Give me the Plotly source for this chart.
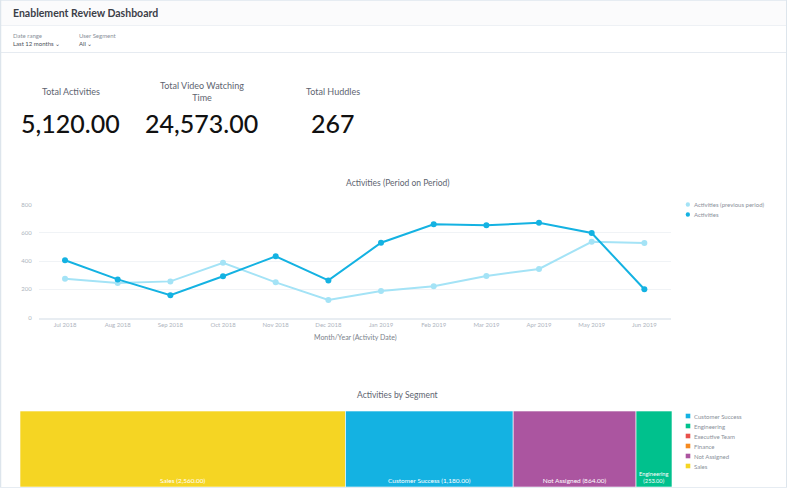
import plotly.graph_objects as go

W, H = 787, 488
months = ["Jul 2018","Aug 2018","Sep 2018","Oct 2018","Nov 2018","Dec 2018","Jan 2019","Feb 2019","Mar 2019","Apr 2019","May 2019","Jun 2019"]
previous = [275,245,256,388,249,125,188,221,294,344,536,527]
activities = [405,270,158,292,433,263,529,659,652,671,598,200]
segments = ["Sales","Customer Success","Not Assigned","Engineering"]
segment_values = [2290,1180,864,253]
segment_labels = ["Sales (2,560.00)","Customer Success (1,180.00)","Not Assigned (864.00)","Engineering<br>(253.00)"]
legend_segments = ["Customer Success","Engineering","Executive Team","Finance","Not Assigned","Sales"]
palette = {"Customer Success":"#14B2E2","Engineering":"#00C18D","Executive Team":"#E8504A","Finance":"#F58A1F","Not Assigned":"#AB55A0","Sales":"#F5D523"}
kpis = [("Total Activities",71,"5,120.00",70),("Total Video Watching<br>Time",202,"24,573.00",202),("Total Huddles",333,"267",333)]

FONT = "Lato, 'Open Sans', sans-serif"
px = lambda x: x / W
py = lambda y: 1 - y / H

fig = go.Figure()
fig.add_trace(go.Scatter(x=months, y=previous, name="Activities (previous period)", mode="lines+markers",
    line=dict(color="#A4E3F6", width=2), marker=dict(color="#A4E3F6", size=6), showlegend=False))
fig.add_trace(go.Scatter(x=months, y=activities, name="Activities", mode="lines+markers",
    line=dict(color="#14B2E2", width=2), marker=dict(color="#14B2E2", size=6), showlegend=False))
fig.add_trace(go.Treemap(labels=segments, parents=[""]*4, values=segment_values, text=segment_labels,
    textinfo="text", textposition="bottom center", sort=True,
    marker=dict(colors=[palette[s] for s in segments], line=dict(color="rgba(255,255,255,0.6)", width=1), pad=dict(t=0,l=0,r=0,b=0)),
    tiling=dict(packing="dice", pad=0), root_color="rgba(0,0,0,0)",
    textfont=dict(family=FONT, size=6.5, color="white"),
    domain=dict(x=[px(20),px(672)], y=[py(487),py(411)]), hoverinfo="skip"))

ann = []
def text(t, x, y, size, color="#5E6470", anchor="center", weight=None):
    ann.append(dict(text=t, x=px(x), y=py(y), xref="paper", yref="paper", showarrow=False, xanchor=anchor, yanchor="middle",
                    font=dict(family=FONT, size=size, color=color, weight=weight), align="center"))
text("Enablement Review Dashboard", 10.5, 13, 10.5, "#3C4048", "left", 700)
text("Date range", 11, 35, 6, "#8A909A", "left")
text("Last 12 months ⌄", 11, 43, 6, "#4A4F57", "left")
text("User Segment", 76.5, 35, 6, "#8A909A", "left")
text("All ⌄", 76.5, 43, 6, "#4A4F57", "left")
for label, x, val, vx in kpis:
    text(label, x, 91, 9, "#5E6470")
    text(val, vx, 123, 25, "#111111", weight=500)
text("Activities (Period on Period)", 398, 183, 8.5)
text("Month/Year (Activity Date)", 355, 337, 7, "#7B818B")
text("Activities by Segment", 398, 395, 8.5)

shapes = [
    dict(type="rect", xref="paper", yref="paper", x0=0, x1=1, y0=py(25.5), y1=1, fillcolor="#FBFBFC", line=dict(width=0), layer="below"),
    dict(type="line", xref="paper", yref="paper", x0=0, x1=1, y0=py(0.5), y1=py(0.5), line=dict(color="#E6ECF2", width=1)),
    dict(type="line", xref="paper", yref="paper", x0=0, x1=1, y0=py(25.5), y1=py(25.5), line=dict(color="#EEF1F5", width=1)),
    dict(type="line", xref="paper", yref="paper", x0=0, x1=1, y0=py(52.5), y1=py(52.5), line=dict(color="#E6EBF1", width=1)),
    dict(type="line", xref="paper", yref="paper", x0=px(0.5), x1=px(0.5), y0=0, y1=1, line=dict(color="#DDE5EC", width=1.5)),
    dict(type="line", xref="paper", yref="paper", x0=px(786.5), x1=px(786.5), y0=0, y1=1, line=dict(color="#DDE5EC", width=1)),
    dict(type="line", xref="paper", yref="paper", x0=0, x1=1, y0=py(487.5), y1=py(487.5), line=dict(color="#E6ECF2", width=1)),
]
for i, (name, color) in enumerate([("Activities (previous period)", "#A4E3F6"), ("Activities", "#14B2E2")]):
    y = 204.5 + 10 * i
    shapes.append(dict(type="circle", xref="paper", yref="paper", x0=px(685.7), x1=px(690), y0=py(y+2.2), y1=py(y-2.2), fillcolor=color, line=dict(width=0)))
    text(name, 692, y, 6, "#8A909A", "left")
for i, s in enumerate(legend_segments):
    y = 416 + 10 * i
    shapes.append(dict(type="rect", xref="paper", yref="paper", x0=px(685.7), x1=px(690.3), y0=py(y+2.3), y1=py(y-2.3), fillcolor=palette[s], line=dict(width=0)))
    text(s, 692, y, 6, "#8A909A", "left")

fig.update_layout(
    width=W, height=H, margin=dict(l=0,r=0,t=0,b=0,autoexpand=False), paper_bgcolor="white", plot_bgcolor="rgba(0,0,0,0)",
    font=dict(family=FONT), annotations=ann, showlegend=False,
    xaxis=dict(domain=[px(38.7),px(670.7)], type="category", range=[-0.5,11.5], showgrid=False, automargin=False,
               showline=True, linecolor="#E8EDF2", linewidth=2, ticks="", tickfont=dict(size=6, color="#AEB4BE")),
    yaxis=dict(domain=[py(317.6),py(204.4)], range=[0,800], tickvals=[0,200,400,600,800], gridcolor="#F0F3F6", gridwidth=1, automargin=False,
               zeroline=False, tickfont=dict(size=6, color="#AEB4BE"), ticks="", ticklabelstandoff=6),
    shapes=shapes,
)
fig.write_html("out.html", config={"displayModeBar": False, "responsive": False},
               post_script="document.body.style.margin='0';document.body.style.overflow='hidden';")
